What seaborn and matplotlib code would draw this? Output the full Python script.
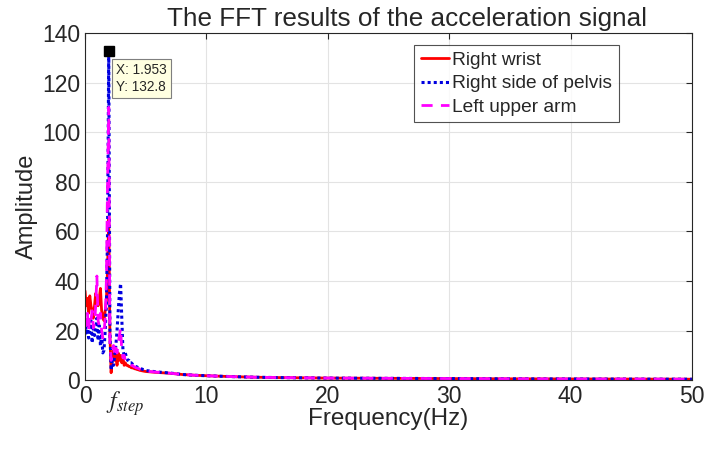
import numpy as np
import pandas as pd
import matplotlib
matplotlib.use("Agg")
import matplotlib.pyplot as plt
import matplotlib.transforms as mtransforms
import seaborn as sns

# ---- data -------------------------------------------------------------
df_hz = 0.09766  # spectral resolution (100 Hz sampling, 1024-point FFT)
n_low = 51       # bins 0 .. 50 cover 0 - 4.9 Hz

wrist_low = [36, 30, 33, 27, 34, 30, 28, 25, 30, 35,
             33, 30, 33, 37, 28, 26, 24, 28, 32, 45,
             66, 18, 3, 9, 12, 8, 10, 6, 11, 8,
             10, 7, 9, 6, 7, 6, 6, 5.5, 5.5, 5,
             5, 4.8, 4.6, 4.5, 4.3, 4.2, 4.0, 3.9, 3.8, 3.7, 3.6]
pelvis_low = [24, 19, 22, 17, 20, 24, 15, 22, 18, 20,
              25, 16, 22, 14, 18, 11, 12, 20, 30, 60,
              132.8, 20, 4, 8, 6, 10, 14, 20, 28, 35,
              39, 25, 12, 10, 11, 9, 8, 8, 7, 7,
              6.5, 6, 6, 5.5, 5.3, 5, 4.8, 4.6, 4.5, 4.3, 4.2]
arm_low = [25, 22, 27, 20, 26, 24, 28, 21, 23, 30,
           42, 24, 22, 27, 20, 17, 19, 25, 40, 80,
           110, 15, 8, 12, 14, 10, 13, 11, 15, 18,
           21, 12, 9, 10, 8, 8, 7, 7, 6.5, 6,
           6, 5.5, 5.3, 5, 4.9, 4.7, 4.5, 4.3, 4.2, 4.0, 3.9]

# high-frequency tail (all three sensors nearly coincide here)
tail_freq = [5, 5.5, 6, 7, 8, 9, 10, 12, 14, 16, 18, 20, 25, 30, 35, 40, 45, 50]
wrist_tail = [3.5, 3.3, 3.1, 2.8, 2.3, 2.0, 1.8, 1.45, 1.2, 1.05, 0.95, 0.85, 0.75, 0.65, 0.55, 0.5, 0.45, 0.4]
pelvis_tail = [3.9, 3.6, 3.3, 2.9, 2.3, 2.0, 1.8, 1.45, 1.2, 1.05, 0.95, 0.85, 0.75, 0.65, 0.55, 0.5, 0.45, 0.4]
arm_tail = [3.7, 3.4, 3.2, 2.8, 2.3, 2.0, 1.8, 1.45, 1.2, 1.05, 0.95, 0.85, 0.75, 0.65, 0.55, 0.5, 0.45, 0.4]

series_names = ["Right wrist", "Right side of pelvis", "Left upper arm"]
peak_freq = 1.953
peak_amp = 132.8

x_ticks = [0, 10, 20, 30, 40, 50]
y_ticks = [0, 20, 40, 60, 80, 100, 120, 140]

# ---- assemble long table ---------------------------------------------
freq = list(np.arange(n_low) * df_hz) + tail_freq
frames = []
for name, lo, hi in zip(series_names,
                        [wrist_low, pelvis_low, arm_low],
                        [wrist_tail, pelvis_tail, arm_tail]):
    frames.append(pd.DataFrame({"Frequency": freq, "Amplitude": lo + hi, "Sensor": name}))
data = pd.concat(frames, ignore_index=True)

# ---- styling ----------------------------------------------------------
sns.set_style("white")
plt.rcParams["font.family"] = ["Liberation Sans", "DejaVu Sans"]
plt.rcParams["mathtext.fontset"] = "stix"

fig = plt.figure(figsize=(7.17, 4.51), dpi=100)
ax = fig.add_axes([0.1186, 0.157, 0.8464, 0.770])

styles = {
    "Right wrist": dict(color="#FF0000", linestyle="-", lw=2.0),
    "Right side of pelvis": dict(color="#0000E0", linestyle=(0, (1, 1)), lw=2.2),
    "Left upper arm": dict(color="#FF00FF", linestyle=(0, (4, 3)), lw=2.0),
}
for name in series_names:
    sub = data[data["Sensor"] == name]
    sns.lineplot(data=sub, x="Frequency", y="Amplitude", ax=ax, label=name,
                 estimator=None, sort=False, **styles[name])

ax.set_xlim(0, 50)
ax.set_ylim(0, 140)
ax.set_xticks(x_ticks)
ax.set_yticks(y_ticks)
ax.set_xticklabels([str(t) for t in x_ticks])
ax.grid(True, color="#E3E3E3", lw=0.8)
ax.set_axisbelow(True)
ax.tick_params(direction="in", length=4, labelsize=16.5, colors="#262626",
               top=True, right=True)
for s in ax.spines.values():
    s.set_color("#262626")
    s.set_linewidth(0.8)

ax.set_xlabel("Frequency(Hz)", fontsize=17.5, color="#262626", labelpad=0)
ax.set_ylabel("Amplitude", fontsize=17, color="#262626", labelpad=3)
ax.set_title("The FFT results of the acceleration signal", fontsize=18.8, pad=5, x=0.53)

# stepping frequency label on the x axis
trans = mtransforms.blended_transform_factory(ax.transData, ax.transAxes)
ax.text(peak_freq - 0.2, -0.025, r"$f_{step}$", transform=trans, ha="left", va="top",
        fontsize=17, color="#262626")

# data tip on the dominant peak
ax.plot([peak_freq], [peak_amp], marker="s", color="black", ms=7, zorder=5)
ax.annotate(f"X: {peak_freq}\nY: {peak_amp}", xy=(peak_freq, peak_amp),
            xytext=(5, -9), textcoords="offset points", ha="left", va="top",
            fontsize=9.8, linespacing=1.25,
            bbox=dict(boxstyle="square,pad=0.3", fc="#FFFFE1", ec="#7F7F7F", lw=0.8))

leg = ax.legend(loc="upper right", bbox_to_anchor=(0.880, 0.965), fontsize=13.8,
                frameon=True, fancybox=False, edgecolor="#262626",
                handlelength=1.5, handletextpad=0.15, borderpad=0.35,
                labelspacing=0.3, borderaxespad=0.0)
leg.get_frame().set_linewidth(0.8)

fig.savefig("out.png", dpi=100, facecolor="white")
